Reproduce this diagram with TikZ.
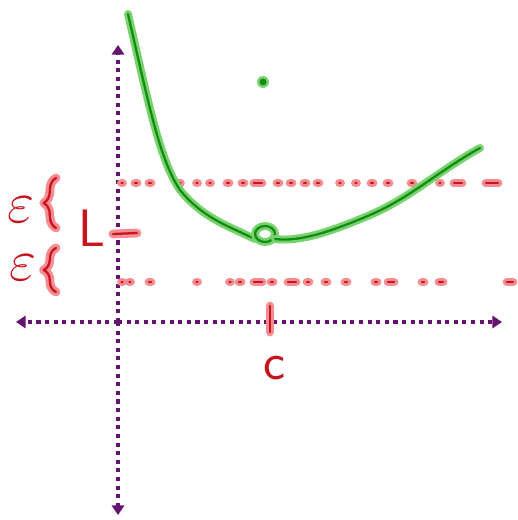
\documentclass[tikz,border=0pt]{standalone}
\usepackage{amsmath,amssymb}
\usepackage{tikz}
\usetikzlibrary{positioning,arrows.meta,decorations.pathreplacing,calc}
\definecolor{axisrule}{RGB}{100,20,110}
\definecolor{penred}{RGB}{200,20,30}
\definecolor{glowred}{RGB}{245,140,145}
\definecolor{pengreen}{RGB}{20,140,20}
\definecolor{glowgreen}{RGB}{120,210,110}
\tikzset{
  axis/.style={axisrule,line width=2.3pt,dash pattern=on 2.3pt off 2.6pt,-{Triangle[length=5.5pt,width=7pt]}},
  redpen/.style={penred,line width=1.3pt,line cap=round,line join=round,preaction={draw=glowred,line width=5pt,line cap=round,line join=round}},
  greenpen/.style={pengreen,line width=1.3pt,line cap=round,line join=round,preaction={draw=glowgreen,line width=4.5pt,line cap=round,line join=round}},
  redtext/.style={text=penred,font=\fontsize{30}{30}\selectfont\sffamily,inner sep=0pt}
}

\begin{document}
\begin{tikzpicture}[x=0.02cm,y=-0.02cm]
  \useasboundingbox (0,0) rectangle (517,520);
  % axes
  \coordinate (ybot) at (118,515);
  \coordinate (ytop) at (118,45);
  \coordinate (xlft) at (16,322);
  \coordinate (xrgt) at (502,322);
  \coordinate (orig) at (118,322);
  \draw[axis] (orig) -- (ytop);
  \draw[axis] (orig) -- (ybot);
  \draw[axis] (orig) -- (xlft);
  \draw[axis] (orig) -- (xrgt);
  % L + epsilon band
  \foreach \x/\w in {122/0.5,136/1,150/1,180/0.5,197/0.5,210/0.5,228/1,243/1,258/4,278/1,291/1,305/1,318/1,340/0.5,356/0.5,372/1,388/1,412/1,440/0.5,458/4,492/6}
    \draw[redpen] (\x-\w,183) -- (\x+\w,183);
  \foreach \x/\w in {122/0.5,130/0.5,150/1,197/0.5,230/0.5,240/1,258/4,272/1,292/4,308/1,326/1,346/1,376/1,391/3,423/1,441/2,510/3}
    \draw[redpen] (\x-\w,282) -- (\x+\w,282);
  \draw[redpen] (113,234) -- (137,233);
  \node[redtext] (lim) at (92,228) {L};
  \draw[redpen,decorate,decoration={brace,amplitude=7pt}] (56,228) -- (56,178);
  \draw[redpen,decorate,decoration={brace,amplitude=7pt}] (56,292) -- (56,248);
  \node[redtext] (epsup) at (21,210) {\scalebox{1.35}{$\varepsilon$}};
  \node[redtext] (epsdn) at (23,268) {\scalebox{1.35}{$\varepsilon$}};
  % c on the x axis
  \draw[redpen] (270,306) -- (270,332);
  \node[redtext] (cpt) at (275,368) {c};
  % curve with hole at c
  \draw[greenpen] (128,14) .. controls (150,110) and (160,160) .. (180,190)
    .. controls (200,215) and (225,225) .. (240,232) .. controls (248,236) .. (255,239);
  \draw[greenpen] (265,234) ellipse (10 and 8);
  \draw[greenpen] (275,239) .. controls (300,242) and (330,232) .. (370,215)
    .. controls (410,198) and (440,170) .. (480,148);
  \fill[glowgreen] (263,82) circle (6);
  \fill[pengreen] (263,82) circle (3.5);
\end{tikzpicture}
\end{document}
